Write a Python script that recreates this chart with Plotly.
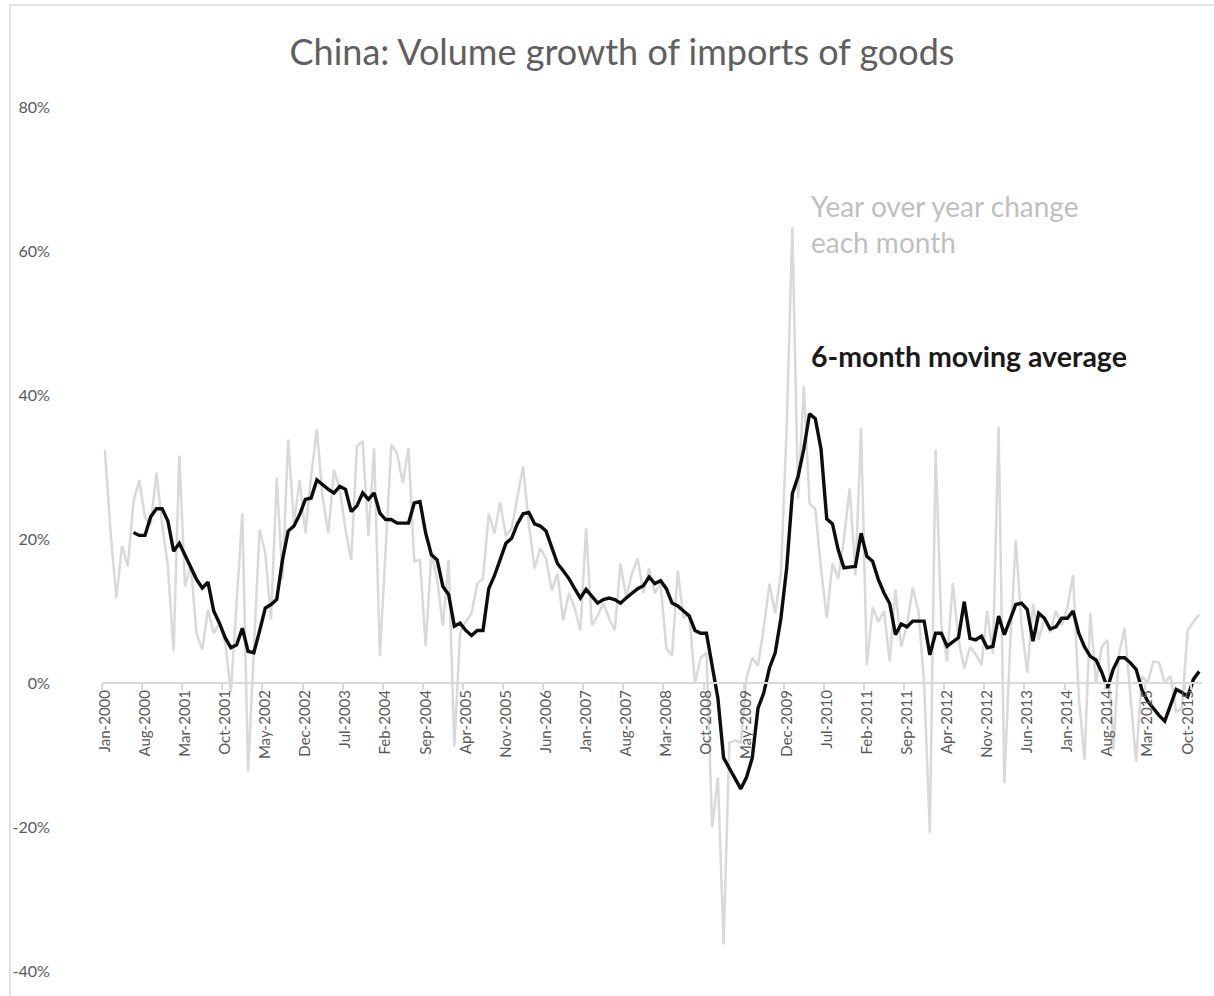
import plotly.graph_objects as go

MONTHS = ["Jan", "Feb", "Mar", "Apr", "May", "Jun", "Jul", "Aug", "Sep", "Oct", "Nov", "Dec"]
YEARS = list(range(2000, 2016))
categories = [f"{m}-{y}" for y in YEARS for m in MONTHS]

# Year over year change each month (%), Jan-2000 .. Dec-2015
yoy = [
    32.4, 21.0, 11.8, 19.0, 16.2, 25.2, 28.2, 23.0, 22.0, 29.2, 22.0, 16.2,
    4.4, 31.6, 13.4, 16.4, 6.9, 4.6, 10.2, 6.9, 8.3, 5.6, -1.2, 11.0,
    23.6, -12.3, 4.2, 21.3, 18.1, 8.8, 28.5, 14.4, 33.8, 22.2, 28.2, 20.8,
    28.7, 35.3, 25.9, 20.8, 29.6, 26.9, 21.3, 17.1, 32.9, 33.6, 20.4, 32.6,
    3.7, 18.1, 33.1, 31.9, 27.8, 32.6, 16.9, 17.1, 5.1, 18.1, 14.4, 7.9,
    17.1, -8.8, 6.9, 8.5, 9.7, 13.8, 14.5, 23.5, 20.8, 25.1, 20.4, 21.5,
    25.6, 30.1, 22.1, 15.9, 18.7, 17.3, 12.8, 15.2, 8.7, 12.5, 10.4, 7.3,
    21.5, 8.0, 9.3, 11.1, 9.0, 7.3, 16.6, 11.8, 15.2, 17.3, 12.5, 15.9,
    12.5, 13.8, 4.8, 3.8, 15.6, 9.0, 9.7, 0.0, 3.5, 4.2, -20.0, -13.1,
    -36.3, -8.3, -8.0, -8.3, 0.7, 3.5, 2.4, 7.6, 13.8, 9.7, 15.2, 35.3,
    63.3, 25.6, 41.2, 24.9, 24.2, 15.9, 9.0, 16.6, 14.5, 20.0, 27.0, 15.0,
    35.4, 2.5, 10.5, 8.5, 10.0, 3.0, 13.0, 5.0, 8.0, 13.2, 10.0, 0.0,
    -20.8, 32.4, 8.0, 3.0, 13.9, 6.0, 2.0, 5.0, 4.0, 2.5, 10.0, 4.0,
    35.6, -13.9, 5.0, 19.9, 8.0, 1.4, 11.0, 6.0, 9.0, 7.0, 10.0, 8.0,
    10.5, 15.0, -2.0, -10.6, 9.7, 0.0, 5.0, 6.0, -9.3, 4.0, 7.6, -2.0,
    -11.0, 1.0, 0.0, 3.0, 2.8, 0.0, 1.0, -4.0, -3.5, 7.4, 8.5, 9.5,
]

# 6-month moving average (%), starts Jun-2000
ma6 = [
    None, None, None, None, None, 20.9, 20.5, 20.5, 23.1, 24.2, 24.2, 22.5,
    18.3, 19.4, 17.8, 16.0, 14.4, 13.2, 14.0, 10.0, 8.3, 6.3, 4.9, 5.3,
    7.6, 4.4, 4.2, 7.2, 10.4, 10.9, 11.6, 17.1, 21.1, 21.8, 23.4, 25.5,
    25.7, 28.2, 27.5, 26.9, 26.4, 27.3, 26.9, 23.8, 24.6, 26.4, 25.5, 26.4,
    23.6, 22.7, 22.7, 22.2, 22.2, 22.2, 25.0, 25.2, 20.8, 17.8, 17.1, 13.4,
    12.3, 7.9, 8.3, 7.3, 6.6, 7.3, 7.3, 13.1, 14.9, 17.3, 19.4, 20.1,
    22.1, 23.5, 23.7, 22.1, 21.8, 21.1, 19.0, 16.6, 15.6, 14.5, 13.1, 11.8,
    13.0, 12.1, 11.1, 11.6, 11.8, 11.6, 11.1, 11.8, 12.5, 13.1, 13.5, 14.7,
    13.8, 14.2, 13.1, 11.1, 10.7, 10.0, 9.3, 7.3, 6.9, 6.9, 2.4, -2.1,
    -10.4, -11.8, -13.1, -14.7, -13.1, -10.4, -3.5, -1.4, 2.1, 4.2, 9.0, 15.9,
    26.3, 28.7, 32.5, 37.4, 36.7, 32.5, 22.8, 22.1, 18.5, 16.0, 16.1, 16.2,
    20.8, 17.6, 16.9, 14.4, 12.5, 11.0, 6.7, 8.2, 7.8, 8.6, 8.6, 8.6,
    3.9, 6.9, 6.9, 5.1, 5.7, 6.3, 11.3, 6.2, 6.0, 6.5, 4.9, 5.1,
    9.3, 6.7, 8.8, 10.9, 11.1, 10.2, 5.8, 9.7, 9.0, 7.5, 7.8, 9.0,
    9.0, 10.0, 6.9, 5.0, 3.7, 3.2, 1.5, -0.7, 1.9, 3.5, 3.5, 2.8,
    1.9, -0.9, -2.5, -3.5, -4.5, -5.3, -3.0, -0.9, -1.3, -1.9, 0.5, 1.6,
]

tick_labels = categories[::7]
y_ticks = [-40, -20, 0, 20, 40, 60, 80]
y_tick_text = [f"{v}%" for v in y_ticks]

TITLE = "China: Volume growth of imports of goods"
LABEL_YOY = "Year over year change<br>each month"
LABEL_MA = "<b>6-month moving average</b>"

# ---- layout geometry (pixels) ----
W, H = 1214, 996
L, R, T, B = 102, 1201.7, 107, 971
Y_MIN, Y_MAX = -40, 80


def px_x(x):
    return (x - L) / (R - L)


def px_y(y):
    return (B - y) / (B - T)


FONT = "Lato"
GREY_TEXT = "#595959"
LINE_GREY = "#d9d9d9"

fig = go.Figure()
fig.add_trace(go.Scatter(
    x=categories, y=yoy, mode="lines",
    line=dict(color="#d9d9d9", width=2.5), hoverinfo="skip", showlegend=False,
))
fig.add_trace(go.Scatter(
    x=categories, y=ma6, mode="lines",
    line=dict(color="#0d0d0d", width=3.4), connectgaps=False,
    hoverinfo="skip", showlegend=False,
))

fig.update_layout(
    width=W, height=H,
    margin=dict(l=L, r=W - R, t=T, b=H - B, pad=0),
    paper_bgcolor="white", plot_bgcolor="white",
    font=dict(family=FONT, color=GREY_TEXT),
    showlegend=False,
    title=dict(
        text=TITLE, xref="container", x=622 / W, xanchor="center",
        yref="container", y=1 - 52 / H, yanchor="middle",
        font=dict(family=FONT, size=36, color="#5f5f5f"),
    ),
    xaxis=dict(
        type="category", categoryorder="array", categoryarray=categories,
        range=[-0.5, len(categories) - 0.5],
        anchor="free", position=(0 - Y_MIN) / (Y_MAX - Y_MIN),
        showline=True, linecolor=LINE_GREY, linewidth=2,
        ticks="outside", ticklen=6, tickwidth=2, tickcolor=LINE_GREY,
        tickson="boundaries",
        tickmode="array", tickvals=tick_labels, ticktext=tick_labels,
        tickangle=-90, tickfont=dict(family=FONT, size=15, color=GREY_TEXT),
        showgrid=False, zeroline=False,
    ),
    yaxis=dict(
        range=[Y_MIN, Y_MAX], tickmode="array", tickvals=y_ticks, ticktext=y_tick_text,
        showline=False, showgrid=False, zeroline=False,
        ticks="outside", ticklen=48, tickcolor="rgba(0,0,0,0)",
        tickfont=dict(family=FONT, size=16, color=GREY_TEXT),
    ),
)

fig.add_annotation(
    text=LABEL_YOY, xref="paper", yref="paper", x=px_x(809), y=px_y(187),
    xanchor="left", yanchor="top", align="left", showarrow=False,
    font=dict(family=FONT, size=28, color="#bfbfbf"),
)
fig.add_annotation(
    text=LABEL_MA, xref="paper", yref="paper", x=px_x(809), y=px_y(356),
    xanchor="left", yanchor="middle", align="left", showarrow=False,
    font=dict(family=FONT, size=28.5, color="#1a1a1a"),
)

# chart-area frame (left and top edges)
fig.add_shape(type="line", xref="paper", yref="paper",
              x0=px_x(10), x1=px_x(10), y0=px_y(5), y1=px_y(H), line=dict(color=LINE_GREY, width=1.5))
fig.add_shape(type="line", xref="paper", yref="paper",
              x0=px_x(10), x1=px_x(W), y0=px_y(5), y1=px_y(5), line=dict(color=LINE_GREY, width=1.5))

fig.write_html(
    "out.html",
    config={"displayModeBar": False},
    post_script="document.body.style.margin='0';document.body.style.overflow='hidden';",
)
